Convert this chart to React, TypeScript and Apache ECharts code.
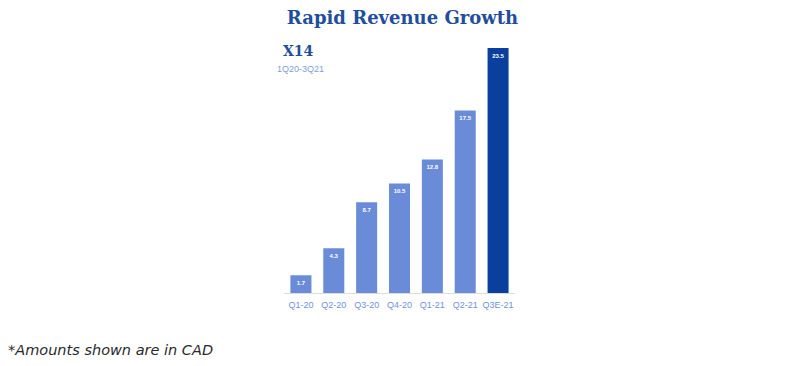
import React, { useEffect, useRef } from "react";
import * as echarts from "echarts";

const categories = ["Q1-20", "Q2-20", "Q3-20", "Q4-20", "Q1-21", "Q2-21", "Q3E-21"];
const values = [1.7, 4.3, 8.7, 10.5, 12.8, 17.5, 23.5];
const labels = ["1.7", "4.3", "8.7", "10.5", "12.8", "17.5", "23.5"];

const LIGHT = "#6a8bd8";
const DARK = "#0b3f9e";

export default function App() {
  const ref = useRef<HTMLDivElement>(null);
  useEffect(() => {
    const chart = echarts.init(ref.current!, null, { renderer: "svg" });
    chart.setOption({
      animation: false,
      backgroundColor: "#ffffff",
      grid: { left: 284.5, right: 290.5, top: 32.25, bottom: 73, containLabel: false },
      xAxis: {
        type: "category",
        data: categories,
        axisLine: { show: true, lineStyle: { color: "#dcdcdc", width: 1 } },
        axisTick: { show: false },
        axisLabel: {
          color: "#6f93d8",
          fontSize: 9,
          fontFamily: "Liberation Sans, Arial, sans-serif",
          margin: 7,
          interval: 0,
        },
      },
      yAxis: {
        type: "value",
        min: 0,
        max: 25,
        show: false,
        splitLine: { show: false },
      },
      series: [
        {
          type: "bar",
          barWidth: "64%",
          data: values.map((v, i) => ({
            value: v,
            itemStyle: { color: i === values.length - 1 ? DARK : LIGHT },
            label: { formatter: labels[i] },
          })),
          label: {
            show: true,
            position: "insideTop",
            distance: 5,
            color: "#ffffff",
            fontSize: 6,
            fontWeight: "bold",
            fontFamily: "Liberation Sans, Arial, sans-serif",
          },
        },
      ],
      graphic: [
        {
          type: "text",
          left: "center",
          top: 8,
          style: {
            text: "Rapid Revenue Growth",
            fill: "#1f4e9c",
            font: "bold 18px 'DejaVu Serif', 'Liberation Serif', serif",
          },
        },
        {
          type: "text",
          x: 283,
          y: 44,
          style: {
            text: "X14",
            fill: "#1f4e9c",
            font: "bold 14px 'DejaVu Serif', 'Liberation Serif', serif",
          },
        },
        {
          type: "text",
          x: 277,
          y: 64,
          style: {
            text: "1Q20-3Q21",
            fill: "#7f9cdb",
            font: "9px 'Liberation Sans', Arial, sans-serif",
          },
        },
        {
          type: "text",
          x: 8,
          y: 342,
          style: {
            text: "*Amounts shown are in CAD",
            fill: "#2a2a2a",
            font: "italic 14.5px 'DejaVu Sans', 'Noto Sans', sans-serif",
          },
        },
      ],
    });
    return () => chart.dispose();
  }, []);
  return (
    <div
      ref={ref}
      style={{ position: "fixed", left: 0, top: 0, width: 805, height: 366 }}
    />
  );
}
